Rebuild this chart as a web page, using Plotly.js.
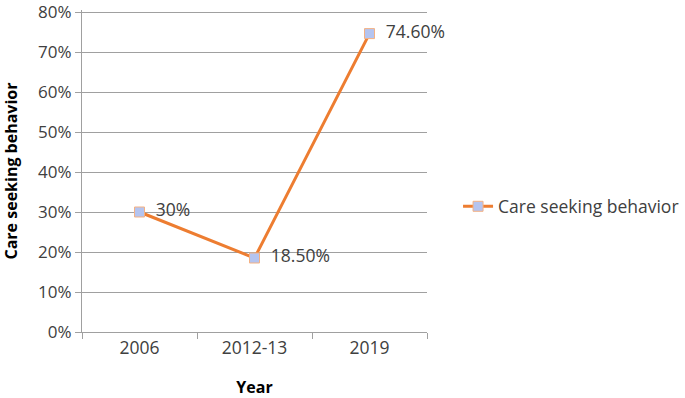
<!DOCTYPE html>
<html><head><meta charset="utf-8">
<script src="https://cdn.plot.ly/plotly-3.0.1.min.js"></script>
<style>html,body{margin:0;padding:0;background:#fff}</style>
</head><body><div id="chart" style="width:685px;height:398px"></div>
<script>
var categories = ["2006", "2012-13", "2019"];
var values = [0.30, 0.185, 0.746];
var labels = ["30%", "18.50%", "74.60%"];
var yTickVals = [0, 0.1, 0.2, 0.3, 0.4, 0.5, 0.6, 0.7, 0.8];
var yTickText = ["0%", "10%", "20%", "30%", "40%", "50%", "60%", "70%", "80%"];

var font = "'Open Sans', 'Liberation Sans', sans-serif";
var trace = {
  x: categories, y: values, type: "scatter", mode: "lines+markers+text",
  name: "Care seeking behavior",
  text: labels.map(function(t){return "  " + t;}), textposition: "middle right",
  textfont: {family: font, size: 17.5, color: "#404040"},
  line: {color: "#ED7D31", width: 3},
  marker: {symbol: "square", size: 10, color: "#B4C4F0", line: {color: "#F4B183", width: 1}},
  cliponaxis: false
};
var layout = {
  width: 685, height: 398,
  margin: {l: 82, r: 258, t: 10, b: 66, autoexpand: false},
  paper_bgcolor: "#fff", plot_bgcolor: "#fff",
  font: {family: font, size: 17.5, color: "#404040"},
  showlegend: true,
  legend: {x: 1.09, y: 0.39, xanchor: "left", yanchor: "middle",
           font: {family: font, size: 17.5, color: "#404040"}, bgcolor: "rgba(0,0,0,0)"},
  xaxis: {
    type: "category", range: [-0.5, 2.5], tickson: "boundaries",
    ticks: "outside", ticklen: 6, tickcolor: "#A0A0A0",
    showline: true, linecolor: "#A0A0A0", linewidth: 1,
    showgrid: false, zeroline: false,
    tickfont: {family: font, size: 17.5, color: "#404040"},
    title: {text: "<b>Year</b>", font: {family: font, size: 16, color: "#000"}, standoff: 26}
  },
  yaxis: {
    range: [0, 0.805], tickvals: yTickVals, ticktext: yTickText,
    ticklabeloverflow: "allow",
    ticks: "outside", ticklen: 6, tickcolor: "#A0A0A0",
    showline: true, linecolor: "#A0A0A0", linewidth: 1,
    showgrid: true, gridcolor: "#A0A0A0", gridwidth: 1, zeroline: false,
    tickfont: {family: font, size: 17, color: "#404040"},
    title: {text: "<b>Care seeking behavior</b>", font: {family: font, size: 16, color: "#000"}, standoff: 18}
  }
};
Plotly.newPlot("chart", [trace], layout, {displayModeBar: false, staticPlot: true});
</script></body></html>
